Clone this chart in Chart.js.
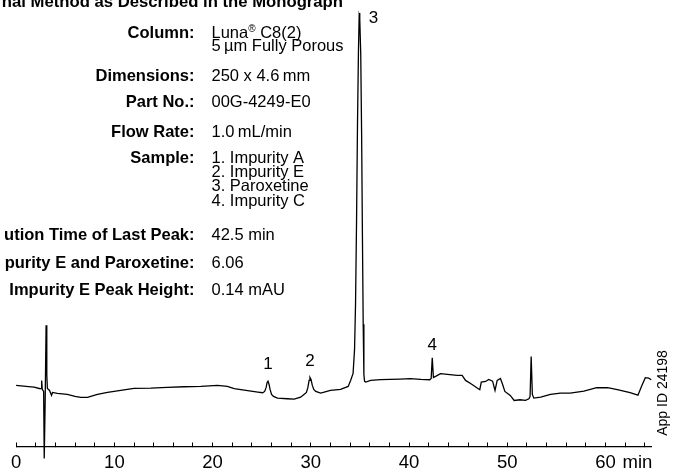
<!DOCTYPE html>
<html>
<head>
<meta charset="utf-8">
<script src="https://cdn.jsdelivr.net/npm/chart.js@4.4.1/dist/chart.umd.min.js"></script>
<style>
  html, body { margin: 0; padding: 0; background: #fff; }
  #wrap { position: relative; width: 675px; height: 472px; }
</style>
</head>
<body>
<div id="wrap"><canvas id="c" width="675" height="472"></canvas></div>
<script>
// ---- data (retention time in min, signal in mAU) ----
const times = [0, 1.0, 1.83, 2.44, 2.55, 2.6, 2.66, 2.8, 2.86, 2.95, 3.05, 3.12, 3.18, 3.4, 3.6, 3.7, 4.2, 5.2, 6.0, 6.58, 7.26, 8.28, 9.3, 10.65, 12.0, 13.7, 15.4, 17.1, 18.8, 20.5, 21.5, 22.2, 23.4, 24.6, 25.1, 25.3, 25.45, 25.55, 25.64, 25.75, 25.85, 26.0, 26.2, 26.6, 27.6, 28.3, 28.96, 29.3, 29.55, 29.7, 29.82, 29.91, 30.02, 30.15, 30.3, 30.5, 31.0, 32.0, 33.03, 33.8, 34.05, 34.3, 34.45, 34.55, 34.65, 34.75, 34.85, 34.92, 34.96, 35.0, 35.08, 35.17, 35.25, 35.33, 35.4, 35.47, 35.6, 36.08, 37.1, 38.1, 39.1, 40.1, 41.2, 42.1, 42.25, 42.36, 42.48, 42.7, 43.2, 43.9, 44.9, 45.4, 45.75, 46.3, 46.9, 47.2, 47.35, 47.8, 48.1, 48.5, 48.75, 48.97, 49.3, 49.5, 49.75, 50.3, 50.7, 51.3, 51.85, 52.2, 52.32, 52.43, 52.55, 52.7, 53.4, 54.4, 55.4, 56.4, 57.8, 59.1, 60.2, 61.2, 62.5, 63.3, 63.7, 64.05, 64.4, 64.65];
const signal = [-0.01, -0.02, -0.027, -0.043, -0.04, 0.04, -0.05, -0.07, -0.74, -0.2, 0.59, 0.1, -0.04, -0.06, -0.11, -0.08, -0.09, -0.10, -0.12, -0.13, -0.13, -0.10, -0.08, -0.06, -0.04, -0.037, -0.03, -0.023, -0.02, -0.01, -0.02, -0.043, -0.06, -0.077, -0.083, -0.07, -0.03, 0.02, 0.033, 0.0, -0.05, -0.1, -0.12, -0.137, -0.143, -0.147, -0.127, -0.1, -0.08, -0.03, 0.04, 0.07, 0.05, -0.01, -0.05, -0.07, -0.087, -0.06, -0.05, -0.02, 0.04, 0.11, 0.35, 0.8, 1.6, 2.6, 3.35, 3.68, 3.71, 3.65, 3.3, 2.5, 1.5, 0.6, 0.1, 0.03, 0.023, 0.04, 0.047, 0.05, 0.053, 0.057, 0.05, 0.047, 0.06, 0.267, 0.07, 0.08, 0.107, 0.10, 0.09, 0.09, 0.04, 0.007, -0.033, -0.053, 0.023, 0.03, 0.05, 0.033, -0.06, 0.04, 0.06, 0.007, -0.07, -0.11, -0.16, -0.153, -0.16, -0.143, -0.12, 0.28, -0.1, -0.137, -0.127, -0.10, -0.087, -0.087, -0.067, -0.033, -0.033, -0.053, -0.083, -0.107, -0.01, 0.067, 0.063, 0.047];

const peakNames = ['1', '2', '3', '4'];
const peakTimes = [25.64, 29.91, 34.96, 42.36];

const tickLabelValues = [0, 10, 20, 30, 40, 50, 60];
const axisUnit = 'min';

const titleText = 'nal Method as Described in the Monograph';
const infoLabels = ['Column:', '', 'Dimensions:', 'Part No.:', 'Flow Rate:', 'Sample:', '', '', '', 'ution Time of Last Peak:', 'purity E and Paroxetine:', 'Impurity E Peak Height:'];
const infoValues = ['Luna® C8(2)', '5\u2009µm Fully Porous', '250 x 4.6\u2009mm', '00G-4249-E0', '1.0\u2009mL/min', '1. Impurity A', '2. Impurity E', '3. Paroxetine', '4. Impurity C', '42.5 min', '6.06', '0.14 mAU'];
const appId = 'App ID 24198';

// ---- layout (pixels) ----
const FONT = '"Liberation Sans", Arial, Helvetica, sans-serif';
const infoBaselines = [37.5, 51, 80.5, 107, 136.5, 163, 177, 191, 205.5, 240, 268, 295];
const labelRight = 194.5, valueLeft = 211.5;
const peakLabelOffsets = [[0, -17], [0, -16], [14, 5], [0, -12]];

const annot = {
  id: 'annot',
  afterDraw(chart) {
    const ctx = chart.ctx;
    const xs = chart.scales.x, ys = chart.scales.y;
    ctx.save();
    ctx.fillStyle = '#000';

    // title
    ctx.font = 'bold 16.7px ' + FONT;
    ctx.textAlign = 'right';
    ctx.textBaseline = 'alphabetic';
    ctx.fillText(titleText, 343, 6.5);

    // info block
    infoBaselines.forEach((b, i) => {
      if (infoLabels[i]) {
        ctx.font = 'bold 16.5px ' + FONT;
        ctx.textAlign = 'right';
        ctx.fillText(infoLabels[i], labelRight, b);
      }
      ctx.font = '16.5px ' + FONT;
      ctx.textAlign = 'left';
      const v = infoValues[i];
      const k = v.indexOf('®');
      if (k >= 0) {
        const a = v.slice(0, k), c = v.slice(k + 1);
        ctx.fillText(a, valueLeft, b);
        let x = valueLeft + ctx.measureText(a).width;
        ctx.font = '10px ' + FONT;
        ctx.fillText('®', x, b - 6);
        x += ctx.measureText('®').width;
        ctx.font = '16.5px ' + FONT;
        ctx.fillText(c, x, b);
      } else {
        ctx.fillText(v, valueLeft, b);
      }
    });

    // peak labels
    ctx.font = '17px ' + FONT;
    ctx.textAlign = 'center';
    ctx.textBaseline = 'middle';
    peakNames.forEach((n, i) => {
      let apex = -Infinity;
      times.forEach((t, j) => { if (Math.abs(t - peakTimes[i]) < 0.2) apex = Math.max(apex, signal[j]); });
      const px = xs.getPixelForValue(peakTimes[i]) + peakLabelOffsets[i][0];
      const py = ys.getPixelForValue(apex) + peakLabelOffsets[i][1];
      ctx.fillText(n, px, py);
    });

    // axis unit
    ctx.font = '18.5px ' + FONT;
    ctx.textAlign = 'left';
    ctx.fillText(axisUnit, xs.getPixelForValue(60) + 17, 462.5);

    // app id
    ctx.translate(663, 393);
    ctx.rotate(-Math.PI / 2);
    ctx.font = '14px ' + FONT;
    ctx.textAlign = 'center';
    ctx.fillText(appId, 0, 0);
    ctx.restore();
  }
};

new Chart(document.getElementById('c'), {
  type: 'line',
  data: {
    datasets: [{
      data: times.map((t, i) => ({ x: t, y: signal[i] })),
      borderColor: '#000',
      borderWidth: 1.3,
      pointRadius: 0,
      tension: 0,
      clip: false,
      fill: false
    }]
  },
  options: {
    responsive: false,
    animation: false,
    devicePixelRatio: 1,
    layout: { padding: { left: 15.3, right: 23.3, top: 0, bottom: -11 } },
    plugins: { legend: { display: false }, tooltip: { enabled: false }, title: { display: false } },
    scales: {
      x: {
        type: 'linear',
        min: 0,
        max: 64.7,
        border: { display: true, color: '#000', width: 1.2 },
        grid: { display: true, drawOnChartArea: false, drawTicks: true, tickLength: -4, color: '#000', lineWidth: 1 },
        ticks: {
          stepSize: 2,
          includeBounds: false,
          autoSkip: false,
          maxRotation: 0,
          padding: 11,
          color: '#000',
          font: { family: FONT, size: 18.5, lineHeight: 1 },
          callback: (v) => tickLabelValues.includes(v) ? String(v) : ''
        }
      },
      y: {
        type: 'linear',
        display: false,
        min: -0.62,
        max: 3.84
      }
    }
  },
  plugins: [annot]
});
</script>
</body>
</html>
